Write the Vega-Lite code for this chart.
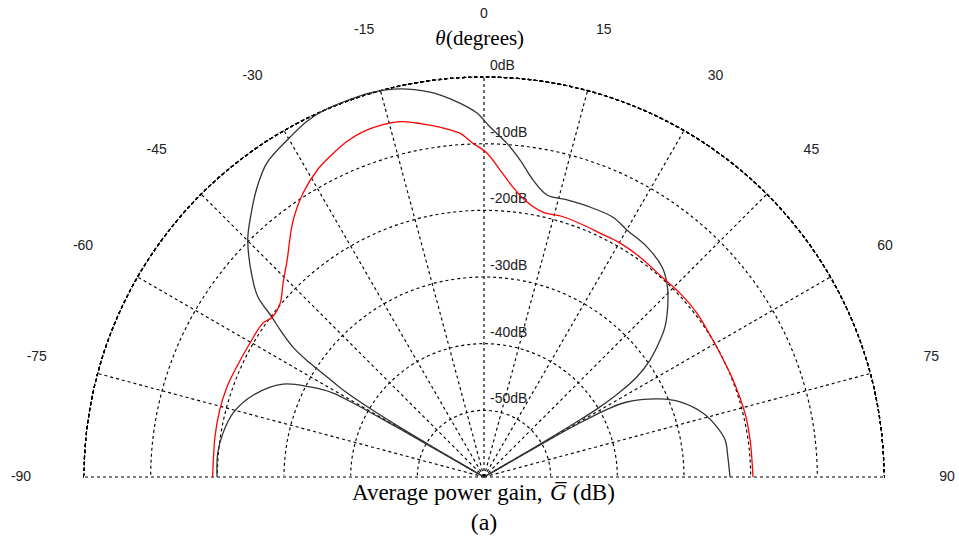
{
  "$schema": "https://vega.github.io/schema/vega-lite/v6.json",
  "width": 959,
  "height": 546,
  "autosize": {"type": "none"},
  "padding": 0,
  "background": "white",
  "config": {"view": {"stroke": null}},
  "datasets": {
    "rings": [{"db": -50}, {"db": -40}, {"db": -30}, {"db": -20}, {"db": -10}, {"db": 0}],
    "spokes": [{"a": -90}, {"a": -75}, {"a": -60}, {"a": -45}, {"a": -30}, {"a": -15}, {"a": 0}, {"a": 15}, {"a": 30}, {"a": 45}, {"a": 60}, {"a": 75}, {"a": 90}],
    "curves": [
      {"trace": "main", "theta": -59.9, "gain": -60},
      {"trace": "main", "theta": -59.8, "gain": -56},
      {"trace": "main", "theta": -59.6, "gain": -50},
      {"trace": "main", "theta": -59.4, "gain": -45},
      {"trace": "main", "theta": -59.0, "gain": -40},
      {"trace": "main", "theta": -58.3, "gain": -35.1},
      {"trace": "main", "theta": -57.5, "gain": -32.1},
      {"trace": "main", "theta": -56.8, "gain": -28.8},
      {"trace": "main", "theta": -55.8, "gain": -25.35},
      {"trace": "main", "theta": -54.2, "gain": -22.3},
      {"trace": "main", "theta": -53.0, "gain": -20.2},
      {"trace": "main", "theta": -51.5, "gain": -16.7},
      {"trace": "main", "theta": -49.2, "gain": -14.05},
      {"trace": "main", "theta": -44.9, "gain": -9.8},
      {"trace": "main", "theta": -42.3, "gain": -7.86},
      {"trace": "main", "theta": -38.0, "gain": -4.75},
      {"trace": "main", "theta": -34.6, "gain": -2.7},
      {"trace": "main", "theta": -29.7, "gain": -1.3},
      {"trace": "main", "theta": -26.5, "gain": -0.4},
      {"trace": "main", "theta": -23.7, "gain": 0},
      {"trace": "main", "theta": -20.0, "gain": 0.1},
      {"trace": "main", "theta": -16.5, "gain": 0.1},
      {"trace": "main", "theta": -12.2, "gain": -0.45},
      {"trace": "main", "theta": -8.0, "gain": -1.7},
      {"trace": "main", "theta": -6.6, "gain": -2.3},
      {"trace": "main", "theta": -3.7, "gain": -3.8},
      {"trace": "main", "theta": -1.1, "gain": -5.4},
      {"trace": "main", "theta": 1.0, "gain": -7.5},
      {"trace": "main", "theta": 3.9, "gain": -9.8},
      {"trace": "main", "theta": 6.5, "gain": -12.15},
      {"trace": "main", "theta": 9.4, "gain": -14.85},
      {"trace": "main", "theta": 12.6, "gain": -16.65},
      {"trace": "main", "theta": 16.7, "gain": -16.6},
      {"trace": "main", "theta": 21.4, "gain": -16.5},
      {"trace": "main", "theta": 26.4, "gain": -16.5},
      {"trace": "main", "theta": 30.1, "gain": -17.2},
      {"trace": "main", "theta": 35.3, "gain": -17.7},
      {"trace": "main", "theta": 40.3, "gain": -18.7},
      {"trace": "main", "theta": 43.3, "gain": -20.0},
      {"trace": "main", "theta": 46.1, "gain": -21.7},
      {"trace": "main", "theta": 50.3, "gain": -24.7},
      {"trace": "main", "theta": 52.1, "gain": -26.5},
      {"trace": "main", "theta": 54.8, "gain": -29.5},
      {"trace": "main", "theta": 56.8, "gain": -32.6},
      {"trace": "main", "theta": 58.0, "gain": -36},
      {"trace": "main", "theta": 58.9, "gain": -40},
      {"trace": "main", "theta": 59.3, "gain": -44},
      {"trace": "main", "theta": 59.6, "gain": -50},
      {"trace": "main", "theta": 59.8, "gain": -56},
      {"trace": "main", "theta": 59.9, "gain": -60},
      {"trace": "left", "theta": -90, "gain": -19.95},
      {"trace": "left", "theta": -84.8, "gain": -19.9},
      {"trace": "left", "theta": -80.4, "gain": -20.3},
      {"trace": "left", "theta": -75.7, "gain": -21.15},
      {"trace": "left", "theta": -70.5, "gain": -23.25},
      {"trace": "left", "theta": -65.2, "gain": -26.8},
      {"trace": "left", "theta": -62.65, "gain": -30.6},
      {"trace": "left", "theta": -60.9, "gain": -34.1},
      {"trace": "left", "theta": -60.5, "gain": -38},
      {"trace": "left", "theta": -60.3, "gain": -44},
      {"trace": "left", "theta": -60.15, "gain": -50},
      {"trace": "left", "theta": -60.05, "gain": -56},
      {"trace": "left", "theta": -60.0, "gain": -60},
      {"trace": "right", "theta": 60.0, "gain": -60},
      {"trace": "right", "theta": 60.05, "gain": -56},
      {"trace": "right", "theta": 60.2, "gain": -50},
      {"trace": "right", "theta": 60.5, "gain": -44},
      {"trace": "right", "theta": 61.2, "gain": -39},
      {"trace": "right", "theta": 62.3, "gain": -35.8},
      {"trace": "right", "theta": 66.1, "gain": -31.1},
      {"trace": "right", "theta": 69.06, "gain": -28.5},
      {"trace": "right", "theta": 73.7, "gain": -25.8},
      {"trace": "right", "theta": 77.9, "gain": -24.25},
      {"trace": "right", "theta": 81.3, "gain": -23.4},
      {"trace": "right", "theta": 85.3, "gain": -23.3},
      {"trace": "right", "theta": 90, "gain": -23.1},
      {"trace": "red", "theta": -90, "gain": -19.3},
      {"trace": "red", "theta": -81.5, "gain": -19.2},
      {"trace": "red", "theta": -75.8, "gain": -19.1},
      {"trace": "red", "theta": -70.7, "gain": -19.15},
      {"trace": "red", "theta": -66.75, "gain": -19.35},
      {"trace": "red", "theta": -60.2, "gain": -19.55},
      {"trace": "red", "theta": -55.1, "gain": -19.6},
      {"trace": "red", "theta": -53.0, "gain": -20.2},
      {"trace": "red", "theta": -49.5, "gain": -19.8},
      {"trace": "red", "theta": -46.0, "gain": -18.1},
      {"trace": "red", "theta": -42.2, "gain": -16.05},
      {"trace": "red", "theta": -38.9, "gain": -13.7},
      {"trace": "red", "theta": -36.6, "gain": -12.0},
      {"trace": "red", "theta": -32.5, "gain": -9.5},
      {"trace": "red", "theta": -28.5, "gain": -7.6},
      {"trace": "red", "theta": -25.5, "gain": -6.6},
      {"trace": "red", "theta": -22.1, "gain": -5.6},
      {"trace": "red", "theta": -19.0, "gain": -5.1},
      {"trace": "red", "theta": -16.0, "gain": -5.0},
      {"trace": "red", "theta": -13.0, "gain": -5.3},
      {"trace": "red", "theta": -10.0, "gain": -6.2},
      {"trace": "red", "theta": -7.2, "gain": -7.1},
      {"trace": "red", "theta": -5.6, "gain": -7.7},
      {"trace": "red", "theta": -4.0, "gain": -8.3},
      {"trace": "red", "theta": -1.9, "gain": -9.9},
      {"trace": "red", "theta": 0.5, "gain": -11.4},
      {"trace": "red", "theta": 3.0, "gain": -13.9},
      {"trace": "red", "theta": 5.7, "gain": -16.3},
      {"trace": "red", "theta": 8.9, "gain": -18.25},
      {"trace": "red", "theta": 12.55, "gain": -19.3},
      {"trace": "red", "theta": 16.9, "gain": -19.2},
      {"trace": "red", "theta": 22.4, "gain": -19.4},
      {"trace": "red", "theta": 25.4, "gain": -19.5},
      {"trace": "red", "theta": 30.2, "gain": -19.4},
      {"trace": "red", "theta": 35.3, "gain": -19.55},
      {"trace": "red", "theta": 42.0, "gain": -19.85},
      {"trace": "red", "theta": 46.8, "gain": -19.7},
      {"trace": "red", "theta": 52.4, "gain": -19.7},
      {"trace": "red", "theta": 59.1, "gain": -20.0},
      {"trace": "red", "theta": 65.6, "gain": -20.0},
      {"trace": "red", "theta": 68.7, "gain": -19.9},
      {"trace": "red", "theta": 76.2, "gain": -19.7},
      {"trace": "red", "theta": 82.1, "gain": -19.7},
      {"trace": "red", "theta": 90, "gain": -19.65}
    ]
  },
  "layer": [
    {
      "data": {"name": "rings"},
      "transform": [{"calculate": "0", "as": "o"}],
      "mark": {"type": "arc", "theta": -1.5707963, "theta2": 1.5707963, "filled": false, "stroke": "#000000", "strokeWidth": 1.15, "strokeDash": [3, 3]},
      "encoding": {
        "x": {"field": "o", "type": "quantitative", "scale": {"domain": [-72.6, 71.25], "nice": false, "zero": false}, "axis": null},
        "y": {"field": "o", "type": "quantitative", "scale": {"domain": [-10.35, 71.55], "nice": false, "zero": false}, "axis": null},
        "radius": {"field": "db", "type": "quantitative", "stack": null, "scale": {"type": "linear", "domain": [-60, 0], "range": [0, 400], "zero": false}, "legend": null}
      }
    },
    {
      "data": {"name": "spokes"},
      "transform": [
        {"filter": "abs(datum.a) == 90"},
        {"calculate": "60 * sin(datum.a * PI / 180)", "as": "sx"},
        {"calculate": "0", "as": "o"}
      ],
      "mark": {"type": "rule", "stroke": "#ffffff", "strokeWidth": 3},
      "encoding": {
        "x": {"field": "o", "type": "quantitative"},
        "y": {"field": "o", "type": "quantitative"},
        "x2": {"field": "sx"}
      }
    },
    {
      "data": {"name": "spokes"},
      "transform": [
        {"calculate": "60 * sin(datum.a * PI / 180)", "as": "sx"},
        {"calculate": "60 * cos(datum.a * PI / 180)", "as": "sy"},
        {"calculate": "0", "as": "o"}
      ],
      "mark": {"type": "rule", "stroke": "#000000", "strokeWidth": 1.15, "strokeDash": [3, 3]},
      "encoding": {
        "x": {"field": "o", "type": "quantitative"},
        "y": {"field": "o", "type": "quantitative"},
        "x2": {"field": "sx"},
        "y2": {"field": "sy"}
      }
    },
    {
      "data": {"name": "spokes"},
      "transform": [
        {"calculate": "69.45 * sin(datum.a * PI / 180)", "as": "lx"},
        {"calculate": "69.45 * cos(datum.a * PI / 180)", "as": "ly"},
        {"calculate": "'' + datum.a", "as": "lab"}
      ],
      "mark": {"type": "text", "font": "Liberation Sans", "fontSize": 14, "color": "#222222", "align": "center", "baseline": "middle"},
      "encoding": {
        "x": {"field": "lx", "type": "quantitative"},
        "y": {"field": "ly", "type": "quantitative"},
        "text": {"field": "lab", "type": "nominal"}
      }
    },
    {
      "data": {"name": "rings"},
      "transform": [
        {"calculate": "datum.db + 60", "as": "ry"},
        {"calculate": "datum.db + 'dB'", "as": "lab"},
        {"calculate": "0", "as": "o"}
      ],
      "mark": {"type": "text", "font": "Liberation Sans", "fontSize": 14, "color": "#222222", "align": "left", "baseline": "middle", "dx": 6, "dy": -11},
      "encoding": {
        "x": {"field": "o", "type": "quantitative"},
        "y": {"field": "ry", "type": "quantitative"},
        "text": {"field": "lab", "type": "nominal"}
      }
    },
    {
      "data": {"name": "curves"},
      "transform": [
        {"window": [{"op": "row_number", "as": "i"}]},
        {"calculate": "(datum.gain + 60) * sin(datum.theta * PI / 180)", "as": "cx"},
        {"calculate": "(datum.gain + 60) * cos(datum.theta * PI / 180)", "as": "cy"}
      ],
      "mark": {"type": "line", "strokeWidth": 1.3, "interpolate": "catmull-rom"},
      "encoding": {
        "x": {"field": "cx", "type": "quantitative"},
        "y": {"field": "cy", "type": "quantitative"},
        "order": {"field": "i", "type": "quantitative"},
        "color": {"field": "trace", "type": "nominal", "scale": {"domain": ["main", "left", "right", "red"], "range": ["#333333", "#333333", "#333333", "#ff0000"]}, "legend": null}
      }
    },
    {
      "data": {"values": [
        {"t": "θ", "px": -7.3, "py": 64.8, "st": "italic", "fs": 21},
        {"t": "(degrees)", "px": -5.7, "py": 64.8, "st": "normal", "fs": 21},
        {"t": "Average power gain,", "px": -19.8, "py": -3.45, "st": "normal", "fs": 23},
        {"t": "G̅", "px": 9.9, "py": -3.45, "st": "italic", "fs": 23},
        {"t": "(dB)", "px": 13.3, "py": -3.45, "st": "normal", "fs": 23},
        {"t": "(a)", "px": -2.0, "py": -7.95, "st": "normal", "fs": 24}
      ]},
      "mark": {"type": "text", "font": "Liberation Serif", "align": "left", "baseline": "alphabetic", "color": "#000000", "fontStyle": {"expr": "datum.st"}, "fontSize": {"expr": "datum.fs"}},
      "encoding": {
        "x": {"field": "px", "type": "quantitative"},
        "y": {"field": "py", "type": "quantitative"},
        "text": {"field": "t", "type": "nominal"}
      }
    }
  ]
}
